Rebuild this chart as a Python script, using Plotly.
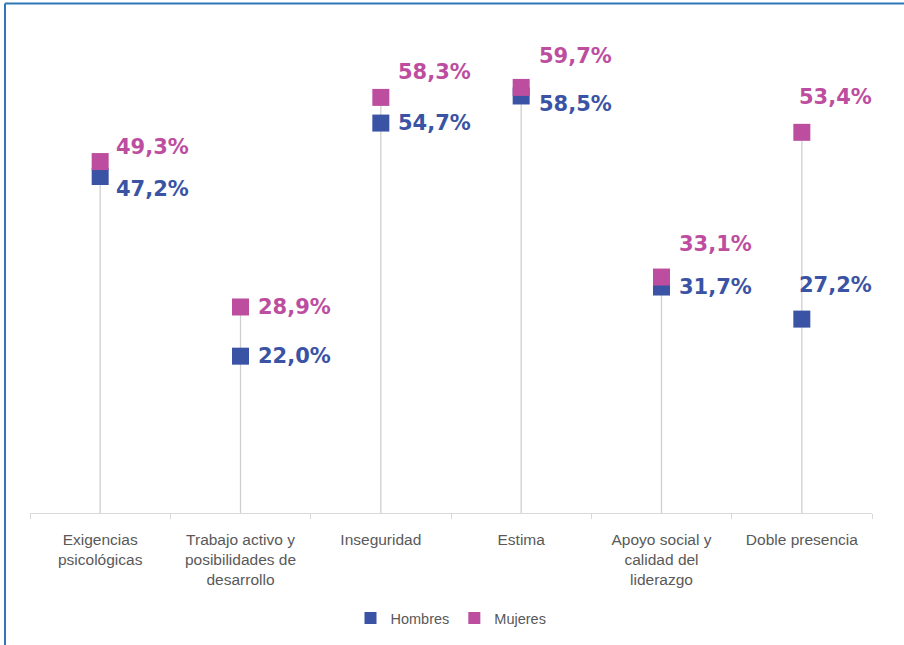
import plotly.graph_objects as go

categories = [
    "Exigencias<br>psicológicas",
    "Trabajo activo y<br>posibilidades de<br>desarrollo",
    "Inseguridad",
    "Estima",
    "Apoyo social y<br>calidad del<br>liderazgo",
    "Doble presencia",
]
hombres = [47.2, 22.0, 54.7, 58.5, 31.7, 27.2]
mujeres = [49.3, 28.9, 58.3, 59.7, 33.1, 53.4]

C_H = "#3A53A4"
C_M = "#BD4D9F"
FONT = "Liberation Sans, Arial, sans-serif"
LABEL_FONT = "DejaVu Sans, Verdana, sans-serif"

# label placement (pixel shifts from each marker)
m_shift = [(14, 15), (15, 0), (15, 25), (16, 31), (15, 33), (-5, 35)]
h_shift = [(14, -12), (15, 0), (15, 0), (16, -8), (15, 0), (-5, 34)]

fig = go.Figure()

# drop lines from the axis up to the higher value of each pair
lx, ly = [], []
for c, h, m in zip(categories, hombres, mujeres):
    lx += [c, c, None]
    ly += [0, max(h, m), None]
fig.add_trace(go.Scatter(x=lx, y=ly, mode="lines", line=dict(color="#CFCFCF", width=1.3),
                         showlegend=False, hoverinfo="skip"))

fig.add_trace(go.Scatter(x=categories, y=hombres, mode="markers", name="Hombres",
                         marker=dict(symbol="square", size=17, color=C_H)))
fig.add_trace(go.Scatter(x=categories, y=mujeres, mode="markers", name="Mujeres",
                         marker=dict(symbol="square", size=17, color=C_M)))

def fmt(v):
    return f"{v:.1f}".replace(".", ",") + "%"

for c, v, (dx, dy) in zip(categories, mujeres, m_shift):
    fig.add_annotation(x=c, y=v, text=fmt(v), showarrow=False, xanchor="left", yanchor="middle",
                       xshift=dx, yshift=dy, font=dict(family=LABEL_FONT, size=21, color=C_M, weight="bold"))
for c, v, (dx, dy) in zip(categories, hombres, h_shift):
    fig.add_annotation(x=c, y=v, text=fmt(v), showarrow=False, xanchor="left", yanchor="middle",
                       xshift=dx, yshift=dy, font=dict(family=LABEL_FONT, size=21, color=C_H, weight="bold"))

W, H = 904, 645
L, R, T, B = 30, 32, 14, 131
pw, ph = W - L - R, H - T - B

def px_x(p):
    return (p - L) / pw

def px_y(p):
    return (H - B - p) / ph

# outer frame (left and top edges visible)
fig.add_shape(type="line", xref="paper", yref="paper", x0=px_x(5), x1=px_x(910),
              y0=px_y(3.5), y1=px_y(3.5), line=dict(color="#2F77B5", width=2))
fig.add_shape(type="line", xref="paper", yref="paper", x0=px_x(5), x1=px_x(5),
              y0=px_y(3.5), y1=px_y(650), line=dict(color="#2F77B5", width=2))

fig.update_layout(
    width=W, height=H,
    margin=dict(l=L, r=R, t=T, b=B),
    paper_bgcolor="white", plot_bgcolor="white",
    font=dict(family=FONT, color="#595959"),
    xaxis=dict(type="category", showline=True, linecolor="#D9D9D9", linewidth=1.3,
               ticks="outside", tickson="boundaries", ticklen=5, tickcolor="#D9D9D9",
               ticklabelstandoff=12,
               showgrid=False, tickfont=dict(size=15.5, color="#595959", family=FONT),
               range=[-0.5, 5.5]),
    yaxis=dict(range=[0, 70], visible=False, showgrid=False, zeroline=False),
    legend=dict(orientation="h", x=0.5, xanchor="center", y=px_y(618), yanchor="middle",
                font=dict(size=14.5, color="#595959", family=FONT), itemwidth=30,
                itemsizing="constant", tracegroupgap=0),
    showlegend=True,
)

fig.write_html("out.html")
